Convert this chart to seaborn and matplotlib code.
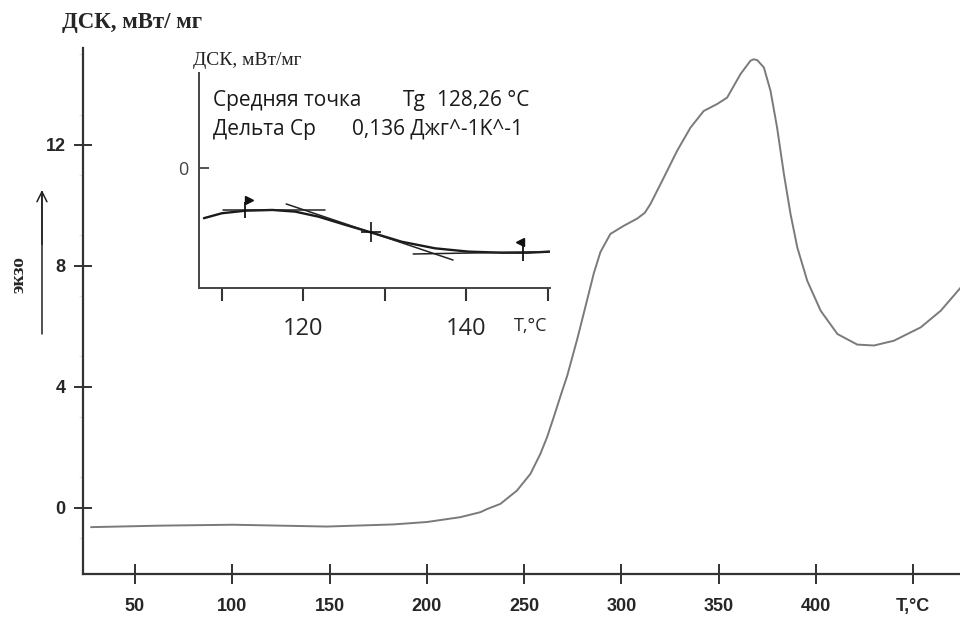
import numpy as np
import pandas as pd
import seaborn as sns
import matplotlib.pyplot as plt

# основная кривая ДСК (°C, мВт/мг)
temp = [27.4, 62.9, 100.4, 148.6, 182.8, 200, 217.2, 227.5, 231, 237.8, 246.3, 253.2,
        258.3, 261.8, 265.2, 269.5, 272.1, 277.4, 282.3, 285.8, 289.2, 294.3, 301.2,
        308.1, 312, 314.9, 321.8, 328.6, 335.5, 342.3, 349.2, 354.3, 361.2, 366.3, 368,
        369.8, 373.2, 376.6, 380, 383.5, 386.9, 390.4, 395.5, 402.4, 411, 421.2,
        429.8, 440.1, 453.8, 464.1, 474.4]
dsc = [-0.65, -0.6, -0.57, -0.63, -0.56, -0.48, -0.32, -0.155, -0.05, 0.12, 0.56, 1.11,
       1.77, 2.33, 2.99, 3.85, 4.35, 5.6, 6.85, 7.75, 8.45, 9.05, 9.32,
       9.56, 9.75, 10.04, 10.92, 11.8, 12.57, 13.12, 13.35, 13.56, 14.34, 14.78, 14.83,
       14.8, 14.56, 13.79, 12.57, 11.03, 9.71, 8.6, 7.5, 6.51, 5.74, 5.39,
       5.36, 5.52, 5.96, 6.51, 7.28]
x_ticks = [50, 100, 150, 200, 250, 300, 350, 400, 450]
x_labels = ["50", "100", "150", "200", "250", "300", "350", "400", "T,°C"]
y_ticks = [0, 4, 8, 12]

# вставка: стеклование
t_in = [107.8, 110.0, 112.9, 116.2, 119.0, 121.9, 125.2, 128.4, 132.1, 136.2, 140.3,
        144.4, 147.6, 150.3]
dsc_in = [-0.0275, -0.0248, -0.0234, -0.0230, -0.0239, -0.0267, -0.0312, -0.0354,
          -0.0404, -0.0440, -0.0458, -0.0464, -0.0464, -0.0458]
onset_line_t = [110.2, 122.7]
onset_line_v = [-0.0230, -0.0230]
slope_line_t = [117.9, 138.4]
slope_line_v = [-0.0197, -0.0504]
end_line_t = [133.5, 150.3]
end_line_v = [-0.0471, -0.0458]
mark_t = [112.9, 147.0]
mark_v = [-0.0232, -0.0464]
tg_t = [128.26]
tg_v = [-0.0352]
in_ticks = [110, 120, 130, 140, 150]
in_labels = ["", "120", "", "140", "T,°C"]

sns.set_style("white")
plt.rcParams["font.family"] = ["DejaVu Sans"]

fig = plt.figure(figsize=(9.6, 6.18), dpi=100)
ax = fig.add_axes([0.0865, 0.0712, 0.9135, 0.851])

df = pd.DataFrame({"T": temp, "dsc": dsc})
sns.lineplot(data=df, x="T", y="dsc", ax=ax, color="#7a7a7a", linewidth=1.4)
ax.set_xlim(23.3, 474)
ax.set_ylim(-2.2, 15.2)
for s in ["top", "right"]:
    ax.spines[s].set_visible(False)
for s in ["left", "bottom"]:
    ax.spines[s].set_color("#333333")
    ax.spines[s].set_linewidth(1.6)
ax.set_xlabel("")
ax.set_ylabel("")
tick_font = {"family": ["Liberation Sans Narrow", "Liberation Sans"], "weight": "bold", "size": 13}
ax.set_xticks(x_ticks)
ax.set_xticklabels(x_labels, fontdict=tick_font)
ax.set_yticks(y_ticks)
ax.set_yticklabels([str(v) for v in y_ticks], fontdict=tick_font)
ax.set_yticks([-1, 1, 3, 5, 7, 9, 11, 13, 15], minor=True)
ax.tick_params(axis="x", bottom=True, direction="inout", length=14, width=1.3,
               color="#222222", pad=10)
ax.tick_params(axis="y", left=True, direction="inout", length=13, width=1.3,
               color="#222222", pad=6)
ax.tick_params(axis="y", which="minor", left=True, direction="out", length=3, width=1,
               color="#e6e6e6")

fig.text(0.065, 0.963, "ДСК, мВт/ мг", family="Liberation Serif", weight="bold",
         fontsize=16.5, va="center", ha="left")
fig.text(0.02, 0.556, "экзо", family="Liberation Serif", weight="bold", fontsize=14,
         rotation=90, va="center", ha="center")
fig.add_artist(plt.Line2D([0.0437, 0.0437], [0.46, 0.69], color="#222222", lw=1.1))
ax.annotate("", xy=(0.0437, 0.697), xytext=(0.0437, 0.60), xycoords="figure fraction",
            arrowprops=dict(arrowstyle="->", color="#222222", lw=1.1, mutation_scale=18))

# вставка
axi = fig.add_axes([0.2073, 0.534, 0.3656, 0.348])
axi.patch.set_alpha(0)
dfi = pd.DataFrame({"T": t_in, "dsc": dsc_in})
sns.lineplot(data=dfi, x="T", y="dsc", ax=axi, color="#1a1a1a", linewidth=1.7)
axi.plot(onset_line_t, onset_line_v, color="#222222", lw=1.1)
axi.plot(slope_line_t, slope_line_v, color="#222222", lw=1.1)
axi.plot(end_line_t, end_line_v, color="#222222", lw=1.1)
axi.plot(mark_t, mark_v, ls="none", marker="|", ms=12, mew=1.3, color="#111111")
axi.plot(tg_t, tg_v, ls="none", marker="+", ms=14, mew=1.2, color="#111111")
axi.plot([113.4], [-0.0175], ls="none", marker=">", ms=5.5, color="#111111")
axi.plot([146.6], [-0.0405], ls="none", marker="<", ms=5.5, color="#111111")
axi.set_xlim(107.2, 150.3)
axi.set_ylim(-0.0657, 0.052)
axi.set_xlabel("")
axi.set_ylabel("")
for s in ["top", "right"]:
    axi.spines[s].set_visible(False)
for s in ["left", "bottom"]:
    axi.spines[s].set_color("#444444")
    axi.spines[s].set_linewidth(1.4)
axi.set_xticks(in_ticks)
axi.set_xticklabels(in_labels, fontsize=17, family="Open Sans")
last = axi.get_xticklabels()[-1]
last.set_fontsize(13)
last.set_horizontalalignment("right")
axi.set_yticks([0])
axi.set_yticklabels(["0"], fontsize=13, color="#444444", family="Open Sans")
axi.tick_params(axis="x", bottom=True, direction="out", length=9, width=1.5,
                color="#333333", pad=12)
axi.tick_params(axis="y", left=True, direction="in", length=7, width=1.2,
                color="#333333", pad=8)

fig.text(0.201, 0.902, "ДСК, мВт/мг", family="Liberation Serif", fontsize=14,
         va="center", ha="left", color="#222222")
info_font = dict(family="Open Sans", fontsize=15, va="center", ha="left", color="#1a1a1a")
fig.text(0.222, 0.838, "Средняя точка", **info_font)
fig.text(0.420, 0.838, "Tg", **info_font)
fig.text(0.455, 0.838, "128,26 °C", **info_font)
fig.text(0.222, 0.791, "Дельта Ср", **info_font)
fig.text(0.367, 0.791, "0,136 Джг^-1K^-1", **info_font)

fig.savefig("out.png", dpi=100)
